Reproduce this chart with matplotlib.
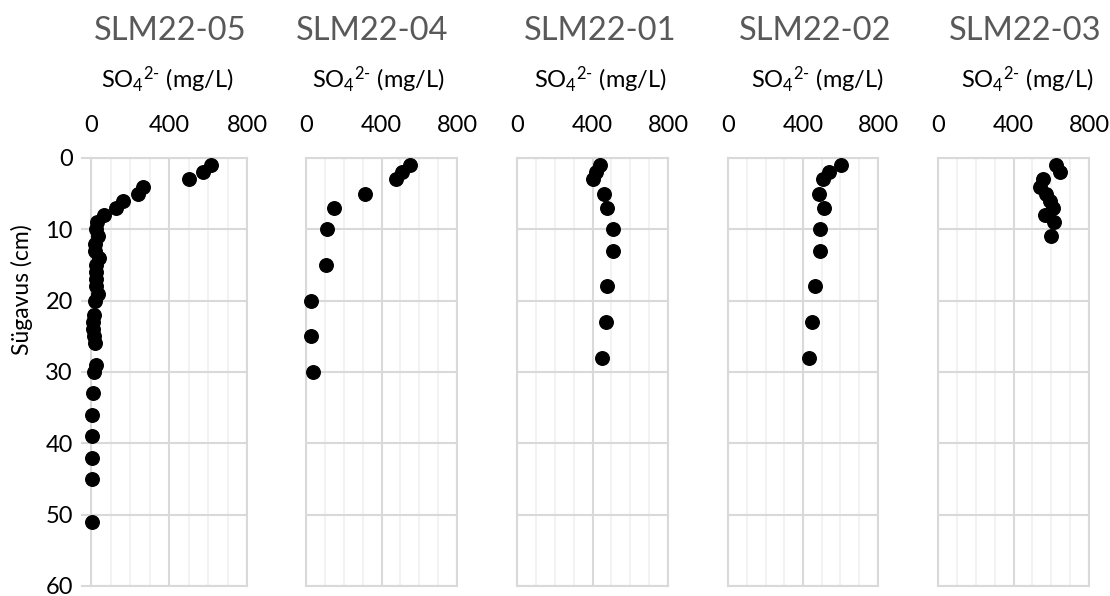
import matplotlib
matplotlib.use("Agg")
import matplotlib.pyplot as plt
from matplotlib.ticker import MultipleLocator

plt.rcParams['font.family'] = ['Lato', 'DejaVu Sans']
plt.rcParams['mathtext.fontset'] = 'custom'
plt.rcParams['mathtext.rm'] = 'Lato'
plt.rcParams['mathtext.it'] = 'Lato'

titles = ["SLM22-05", "SLM22-04", "SLM22-01", "SLM22-02", "SLM22-03"]

depth_05 = [1, 2, 3, 4, 5, 6, 7, 8, 9, 10, 11, 12, 13, 14, 15, 16, 17, 18, 19, 20,
            22, 23, 24, 25, 26, 29, 30, 33, 36, 39, 42, 45, 51]
so4_05 = [615, 576, 504, 267, 243, 166, 130, 68, 29, 25, 38, 20, 18, 43, 27, 25, 25, 27, 34, 20,
          17, 12, 12, 15, 20, 26, 15, 9, 7, 6, 5, 4, 5]

depth_04 = [1, 2, 3, 5, 7, 10, 15, 20, 25, 30]
so4_04 = [550, 508, 479, 311, 147, 110, 105, 26, 26, 35]

depth_01 = [1, 2, 3, 5, 7, 10, 13, 18, 23, 28]
so4_01 = [439, 421, 403, 461, 479, 509, 509, 479, 472, 451]

depth_02 = [1, 2, 3, 5, 7, 10, 13, 18, 23, 28]
so4_02 = [603, 537, 506, 488, 514, 493, 492, 463, 448, 433]

depth_03 = [1, 2, 3, 4, 5, 6, 7, 8, 9, 11]
so4_03 = [623, 644, 556, 539, 570, 596, 609, 565, 614, 598]

depths = [depth_05, depth_04, depth_01, depth_02, depth_03]
values = [so4_05, so4_04, so4_01, so4_02, so4_03]

x_ticks = [0, 400, 800]
y_ticks = [0, 10, 20, 30, 40, 50, 60]

W, H = 1110, 596
fig = plt.figure(figsize=(W / 100, H / 100), dpi=100)

panels_px = [(91, 247), (306, 457), (517, 668), (728, 878), (938, 1089)]
top_px, bot_px = 158, 586
title_cx = [170, 372, 600, 815, 1025]
sub_cx = [167, 378, 600, 817, 1027]

major_c = "#d9d9d9"
minor_c = "#f0f0f0"

for i, (l, r) in enumerate(panels_px):
    ax = fig.add_axes([l / W, 1 - bot_px / H, (r - l) / W, (bot_px - top_px) / H])
    ax.set_xlim(0, 800)
    ax.set_ylim(60, 0)
    ax.set_xticks(x_ticks)
    ax.xaxis.set_minor_locator(MultipleLocator(100))
    ax.set_yticks(y_ticks)
    ax.xaxis.tick_top()
    ax.grid(which='major', axis='both', color=major_c, lw=1.5, zorder=0)
    ax.grid(which='minor', axis='x', color=minor_c, lw=1.2, zorder=0)
    ax.set_axisbelow(True)
    for s in ax.spines.values():
        s.set_color(major_c)
        s.set_linewidth(1.5)
    ax.tick_params(axis='x', which='both', length=0, pad=16, labelsize=17, labelcolor='black')
    if i == 0:
        ax.tick_params(axis='y', which='major', length=7, width=1.5, color=major_c,
                       labelsize=17, pad=6)
    else:
        ax.tick_params(axis='y', which='both', length=0, labelleft=False)
    ax.scatter(values[i], depths[i], s=95, color='black', zorder=3, clip_on=False)
    fig.text(title_cx[i] / W, 1 - 31 / H, titles[i], ha='center', va='center',
             fontsize=23.5, color='#595959')
    fig.text(sub_cx[i] / W, 1 - 80 / H, r"SO$_4$$^{2\text{-}}$ (mg/L)", ha='center',
             va='center', fontsize=17, color='black')

fig.text(22 / W, 1 - 290 / H, "Sügavus (cm)", rotation=90, ha='center', va='center',
         fontsize=16.5, color='black')

fig.savefig("out.png", dpi=100, facecolor='white')
